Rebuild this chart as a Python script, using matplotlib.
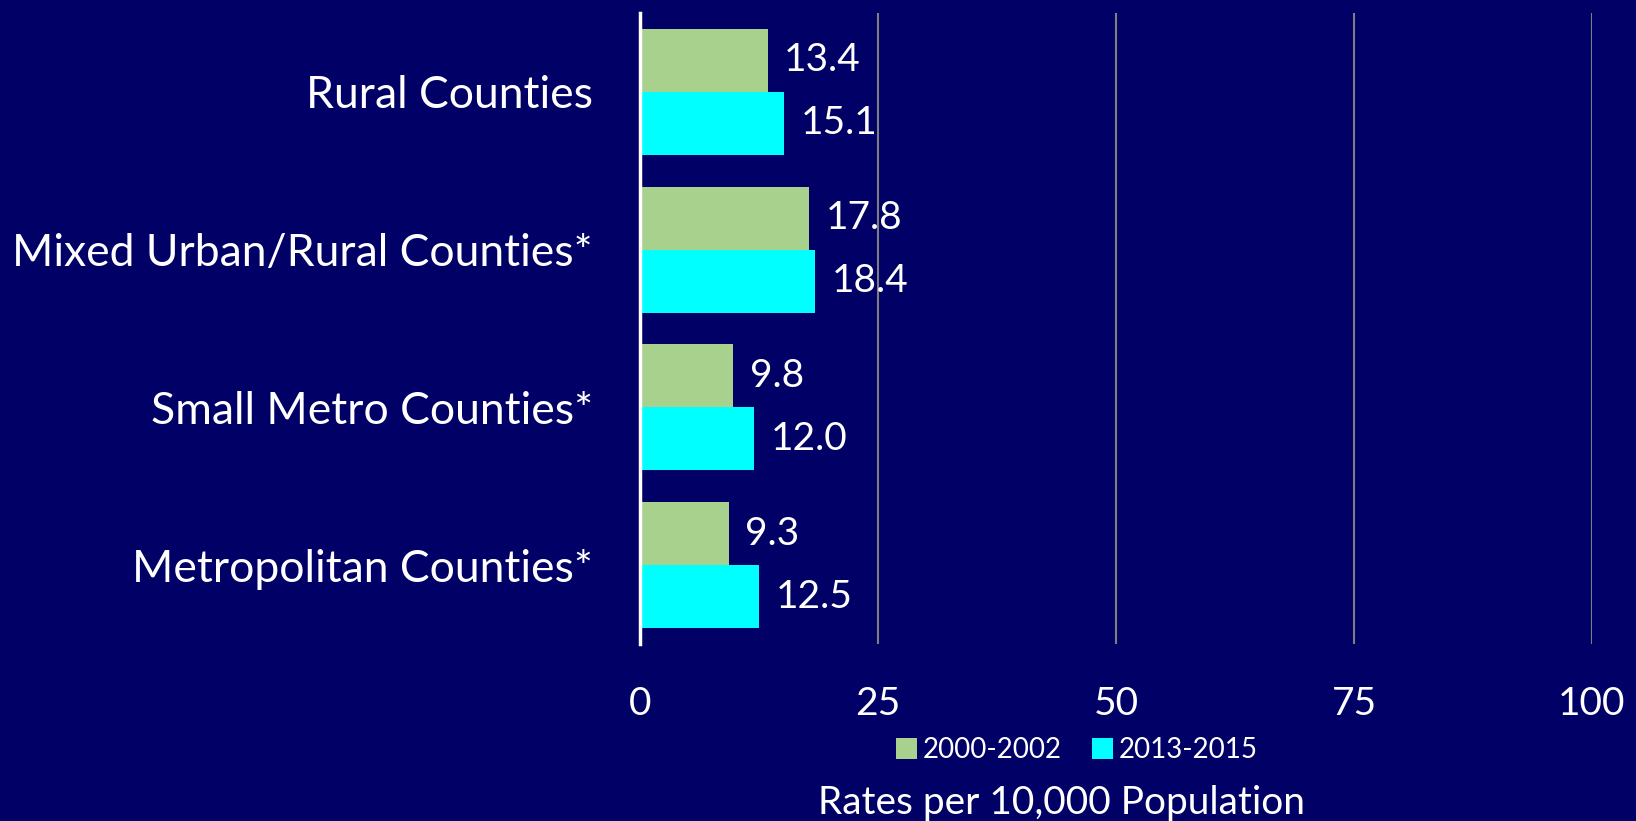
import numpy as np
import matplotlib.pyplot as plt

# data
categories = ['Rural Counties', 'Mixed Urban/Rural Counties*',
              'Small Metro Counties*', 'Metropolitan Counties*']
rates_2000 = [13.4, 17.8, 9.8, 9.3]
rates_2013 = [15.1, 18.4, 12.0, 12.5]
series_names = ['2000-2002', '2013-2015']
xticks = [0, 25, 50, 75, 100]

bg = '#000066'
green = '#A9D18E'
cyan = '#00FFFF'

plt.rcParams['font.family'] = ['Lato', 'DejaVu Sans']

fig = plt.figure(figsize=(16.36, 8.21), dpi=100, facecolor=bg)
ax = fig.add_axes([640/1636, 1 - 644/821, 952/1636, 631/821], facecolor=bg)

y = np.arange(len(categories))[::-1]
h = 0.4
b1 = ax.barh(y + h/2, rates_2000, height=h, color=green, label=series_names[0])
b2 = ax.barh(y - h/2, rates_2013, height=h, color=cyan, label=series_names[1])

for bars, vals in [(b1, rates_2000), (b2, rates_2013)]:
    for bar, v in zip(bars, vals):
        ax.annotate('{:.1f}'.format(v), (bar.get_width(), bar.get_y() + bar.get_height()/2),
                    xytext=(12, 0), textcoords='offset points', va='center', ha='left',
                    color='white', fontsize=28)

ax.set_xlim(0, 100)
ax.set_ylim(-0.5, 3.5)
ax.set_xticks(xticks)
ax.set_yticks(y)
ax.set_yticklabels(categories)
ax.tick_params(axis='x', length=0, pad=30, labelsize=28, colors='white')
ax.tick_params(axis='y', length=0, pad=34, labelsize=32, colors='white')
ax.grid(axis='x', color='#7f7f7f', linewidth=1.5)
ax.set_axisbelow(True)
for s in ['top', 'right', 'bottom']:
    ax.spines[s].set_visible(False)
ax.spines['left'].set_color('white')
ax.spines['left'].set_linewidth(2.5)

leg = fig.legend(handles=[b1, b2], loc='center', bbox_to_anchor=(1077/1636, 1 - 750/821),
                 ncol=2, frameon=False, fontsize=20, handlelength=0.75, handleheight=0.8,
                 handletextpad=0.2, columnspacing=1.1)
for t in leg.get_texts():
    t.set_color('white')

fig.text(1062/1636, 1 - 803/821, 'Rates per 10,000 Population', ha='center', va='center',
         color='white', fontsize=28)

fig.savefig('out.png', facecolor=bg)
